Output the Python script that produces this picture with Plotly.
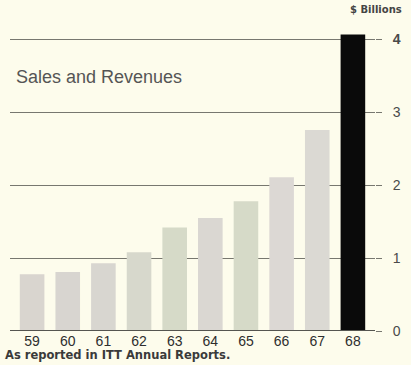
import plotly.graph_objects as go

# ITT sales and revenues, $ billions
years = ["59", "60", "61", "62", "63", "64", "65", "66", "67", "68"]
revenues = [0.78, 0.81, 0.93, 1.08, 1.42, 1.55, 1.78, 2.11, 2.76, 4.07]
bar_colors = ["#d9d5cf", "#d8d5d0", "#d8d6d0", "#d7d8cc", "#d6dac8",
              "#dad7d2", "#d6dac8", "#dcd8d4", "#dbd9d3", "#0a0a0a"]
y_ticks = [0, 1, 2, 3, 4]
y_tick_labels = ["0", "1", "2", "3", "<b>4</b>"]

BG = "#fdfcec"

fig = go.Figure(
    go.Bar(
        x=list(range(len(years))),
        y=revenues,
        marker=dict(color=bar_colors, line=dict(width=0)),
        width=0.69,
        hoverinfo="skip",
    )
)

fig.update_layout(
    width=411,
    height=365,
    margin=dict(l=10, r=29, t=25, b=34),
    paper_bgcolor=BG,
    plot_bgcolor=BG,
    showlegend=False,
    font=dict(family="Liberation Sans, Arial, sans-serif", color="#3a3a3a"),
    xaxis=dict(
        range=[-0.62, 9.62],
        tickmode="array",
        tickvals=list(range(len(years))),
        ticktext=years,
        showgrid=False,
        zeroline=False,
        showline=False,
        ticks="",
        tickfont=dict(size=14, color="#2e2e2e"),
        ticklabelstandoff=0,
    ),
    yaxis=dict(
        range=[0, 4.2],
        side="right",
        tickmode="array",
        tickvals=y_ticks,
        ticktext=y_tick_labels,
        showgrid=True,
        gridcolor="#77776f",
        gridwidth=1,
        zeroline=False,
        showline=False,
        ticks="outside",
        ticklen=6,
        tickcolor="#77776f",
        tickfont=dict(size=14, color="#4a4a4a"),
        ticklabelstandoff=8,
    ),
    barmode="overlay",
)

# Baseline drawn above the bars
fig.add_shape(type="line", xref="paper", yref="y", x0=0, x1=1, y0=0, y1=0,
              line=dict(color="#555550", width=2), layer="above")

fig.add_annotation(text="Sales and Revenues", xref="paper", yref="paper",
                   x=0, y=0.83, xshift=4, xanchor="left", yanchor="middle",
                   showarrow=False,
                   font=dict(size=18, color="#555555",
                             family="Liberation Sans, Arial, sans-serif"))

fig.add_annotation(text="<b>$ Billions</b>", xref="paper", yref="paper",
                   x=1, y=1, xshift=29, yshift=16, xanchor="right",
                   yanchor="middle", showarrow=False,
                   font=dict(size=10, color="#444444",
                             family="DejaVu Sans, sans-serif"))

fig.add_annotation(text="<b>As reported in ITT Annual Reports.</b>",
                   xref="paper", yref="paper", x=0, y=0, xshift=-7,
                   yshift=-24, xanchor="left", yanchor="middle",
                   showarrow=False,
                   font=dict(size=11.5, color="#3a3a3a",
                             family="DejaVu Sans, sans-serif"))

fig.write_html("out.html")
